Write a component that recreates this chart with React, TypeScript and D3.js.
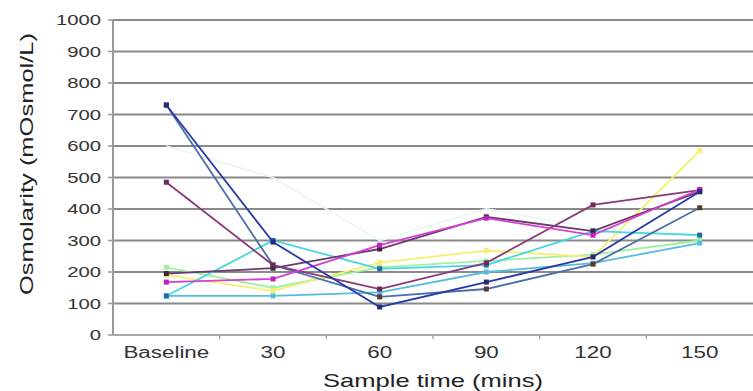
import React from 'react';
import * as d3 from 'd3';

const categories = ['Baseline', '30', '60', '90', '120', '150'];
const yTicks = [0, 100, 200, 300, 400, 500, 600, 700, 800, 900, 1000];

// one array per subject
const paleSeries = [600, 500, 300, 400, 340, 320];
const navySeries = [730, 295, 89, 168, 248, 455];
const tealSeries = [730, 222, 121, 146, 225, 404];
const purpleSeries = [485, 222, 146, 229, 413, 460];
const magentaSeries = [168, 178, 285, 371, 317, 462];
const darkSeries = [195, 212, 273, 375, 330, 455];
const cyanSeries = [124, 300, 210, 222, 330, 317];
const blueSeries = [124, 124, 135, 200, 228, 292];
const yellowSeries = [190, 140, 230, 268, 248, 585];
const greenSeries = [215, 150, 215, 235, 255, 300];

const series = [
  { values: paleSeries, color: '#eaf8f3', marker: 'none' },
  { values: greenSeries, color: '#9ff09f', marker: '#9ff09f' },
  { values: yellowSeries, color: '#f4f070', marker: '#f4f070' },
  { values: blueSeries, color: '#55bde0', marker: '#55bde0' },
  { values: cyanSeries, color: '#44d6e6', marker: '#1d6f9f' },
  { values: tealSeries, color: '#4b6fa8', marker: '#5a3a2a' },
  { values: darkSeries, color: '#6a3a6a', marker: '#3a2a3a' },
  { values: purpleSeries, color: '#8a3a7a', marker: '#6a2a5a' },
  { values: magentaSeries, color: '#d440d4', marker: '#c020c0' },
  { values: navySeries, color: '#2a3aa8', marker: '#2a2a7a' },
];

const W = 753;
const H = 391;
const left = 113;
const right = 753;
const top = 20;
const bottom = 335;

export default function App() {
  const x = d3.scaleBand().domain(categories).range([left, right]);
  const y = d3.scaleLinear().domain([0, 1000]).range([bottom, top]);
  const cx = (c: string) => (x(c) ?? 0) + x.bandwidth() / 2;
  const line = d3
    .line<number>()
    .x((_, i) => cx(categories[i]))
    .y((d) => y(d));

  const font = '"Liberation Sans", Arial, sans-serif';

  return (
    <svg width={W} height={H} style={{ position: 'absolute', left: 0, top: 0, background: '#fff' }}>
      {/* gridlines */}
      {yTicks.slice(1).map((t) => (
        <line key={t} x1={left} x2={right} y1={y(t)} y2={y(t)} stroke="#8a8a8a" strokeWidth={2} />
      ))}
      {/* y axis */}
      <line x1={left} x2={left} y1={top} y2={bottom} stroke="#9a9a9a" strokeWidth={2} />
      {yTicks.map((t) => (
        <g key={t}>
          <line x1={left - 5} x2={left} y1={y(t)} y2={y(t)} stroke="#9a9a9a" strokeWidth={1.5} />
          <text
            transform={`translate(101,${y(t)}) scale(1.35,1)`}
            dy="0.35em"
            textAnchor="end"
            fontFamily={font}
            fontSize={15}
            fill="#333"
          >
            {t}
          </text>
        </g>
      ))}
      {/* x axis */}
      <line x1={left} x2={right} y1={bottom} y2={bottom} stroke="#a8a8a8" strokeWidth={2} />
      {categories.map((c, i) => (
        <g key={c}>
          {i > 0 && (
            <line x1={x(c)} x2={x(c)} y1={bottom} y2={bottom + 4} stroke="#a8a8a8" strokeWidth={1.5} />
          )}
          <text
            transform={`translate(${cx(c)},358) scale(1.4,1)`}
            textAnchor="middle"
            fontFamily={font}
            fontSize={16}
            fill="#333"
          >
            {c}
          </text>
        </g>
      ))}
      {/* series */}
      {series.map((s, k) => (
        <g key={k}>
          <path d={line(s.values) ?? ''} fill="none" stroke={s.color} strokeWidth={1.8} />
          {s.marker !== 'none' &&
            s.values.map((v, i) => (
              <rect
                key={i}
                x={cx(categories[i]) - 2.5}
                y={y(v) - 2.5}
                width={5}
                height={5}
                fill={s.marker}
              />
            ))}
        </g>
      ))}
      {/* titles */}
      <text
        transform={`translate(26,164) rotate(-90)`}
        textAnchor="middle"
        dy="0.35em"
        fontFamily={font}
        fontSize={19}
        textLength={262}
        lengthAdjust="spacingAndGlyphs"
        fill="#222"
      >
        Osmolarity (mOsmol/L)
      </text>
      <text
        transform="translate(433,387) scale(1.42,1)"
        textAnchor="middle"
        fontFamily={font}
        fontSize={18}
        fill="#222"
      >
        Sample time (mins)
      </text>
    </svg>
  );
}
